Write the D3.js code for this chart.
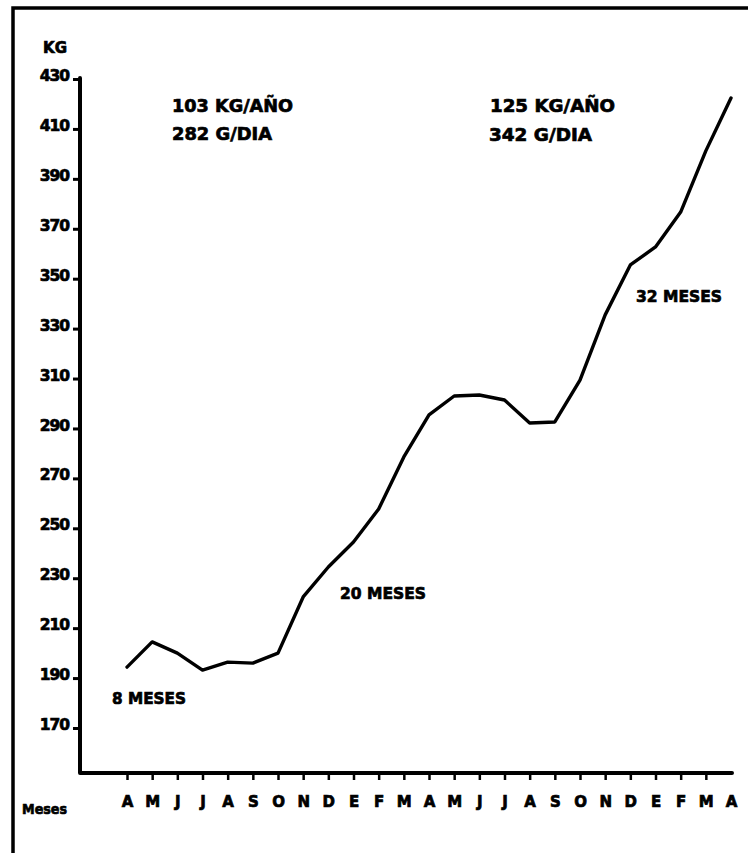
<!DOCTYPE html>
<html>
<head>
<meta charset="utf-8">
<script src="https://cdn.jsdelivr.net/npm/d3@7"></script>
<style>
  html, body { margin: 0; padding: 0; background: #fff; }
  svg { display: block; }
  text { font-family: "DejaVu Sans", sans-serif; font-weight: bold; fill: #000; stroke: #000; stroke-width: 0.7px; }
</style>
</head>
<body>
<svg id="chart" width="748" height="853"></svg>
<script>
// ---- data ----
const months = ["A","M","J","J","A","S","O","N","D","E","F","M","A","M","J","J","A","S","O","N","D","E","F","M","A"];
const weights = [194.4, 204.5, 200.0, 193.2, 196.4, 196.0, 200.0, 222.5, 234.5, 244.5, 257.7, 278.6, 295.4, 303.0, 303.4, 301.4, 292.2, 292.6, 309.4, 335.5, 355.5, 362.7, 376.7, 401.2, 422.4];
const yTicks = [170, 190, 210, 230, 250, 270, 290, 310, 330, 350, 370, 390, 410, 430];
const rateLabels = ["103 KG/AÑO", "282 G/DIA", "125 KG/AÑO", "342 G/DIA"];
const ageLabels = ["8 MESES", "20 MESES", "32 MESES"];

const svg = d3.select("#chart");

// frame (left and top edges visible)
svg.append("path")
  .attr("d", "M13,853 L13,8 L748,8")
  .attr("fill", "none").attr("stroke", "#000").attr("stroke-width", 3.5);

// scales
const x = d3.scalePoint().domain(d3.range(months.length)).range([127, 731]);
const y = d3.scaleLinear().domain([170, 430]).range([728, 79]);
const axisX = 80, axisY = 773;

// axis frame line (L shape)
svg.append("path")
  .attr("d", `M${axisX},${y(430) - 1} L${axisX},${axisY} L${x(months.length - 1) + 1},${axisY}`)
  .attr("fill", "none").attr("stroke", "#000").attr("stroke-width", 4)
  .attr("stroke-linejoin", "round").attr("stroke-linecap", "round");

// y axis
const gy = svg.append("g").attr("transform", `translate(${axisX},0)`)
  .call(d3.axisLeft(y).tickValues(yTicks).tickSize(7).tickPadding(4).tickFormat(d3.format("d")));
gy.select(".domain").remove();
gy.selectAll(".tick line").attr("stroke", "#000").attr("stroke-width", 3);
gy.selectAll(".tick text").attr("font-size", 15.5).attr("dy", "0.1em")
  .attr("font-family", "DejaVu Sans").attr("font-weight", "bold").attr("letter-spacing", -1);

// x axis
const gx = svg.append("g").attr("transform", `translate(0,${axisY})`)
  .call(d3.axisBottom(x).tickSize(7).tickPadding(16).tickFormat(i => months[i]));
gx.select(".domain").remove();
gx.selectAll(".tick line").attr("stroke", "#000").attr("stroke-width", 2.5)
  .filter(d => d === months.length - 1).remove();
gx.selectAll(".tick text").attr("font-size", 15)
  .attr("font-family", "DejaVu Sans").attr("font-weight", "bold");

// axis titles
svg.append("text").attr("x", 55).attr("y", 53).attr("text-anchor", "middle")
  .attr("font-size", 15).text("KG");
svg.append("text").attr("x", 22).attr("y", 814).attr("font-size", 14)
  .attr("textLength", 45).attr("lengthAdjust", "spacingAndGlyphs").text("Meses");

// line
const line = d3.line().x((d, i) => x(i)).y(d => y(d)).curve(d3.curveLinear);
svg.append("path").datum(weights)
  .attr("d", line)
  .attr("fill", "none").attr("stroke", "#000").attr("stroke-width", 3.4)
  .attr("stroke-linejoin", "round").attr("stroke-linecap", "round");

// annotations
const rateLayout = [
  {x: 172, y: 112, w: 121},
  {x: 172, y: 140, w: 100},
  {x: 490, y: 112, w: 125},
  {x: 489, y: 141, w: 103}
];
rateLabels.forEach((t, i) => {
  const p = rateLayout[i];
  svg.append("text").attr("x", p.x).attr("y", p.y).attr("font-size", 17.5)
    .attr("textLength", p.w).attr("lengthAdjust", "spacingAndGlyphs").text(t);
});
const ageLayout = [
  {x: 112, y: 704, w: 74},
  {x: 340, y: 599, w: 86},
  {x: 636, y: 302, w: 86}
];
ageLabels.forEach((t, i) => {
  const p = ageLayout[i];
  svg.append("text").attr("x", p.x).attr("y", p.y).attr("font-size", 16)
    .attr("textLength", p.w).attr("lengthAdjust", "spacingAndGlyphs").text(t);
});
</script>
</body>
</html>
